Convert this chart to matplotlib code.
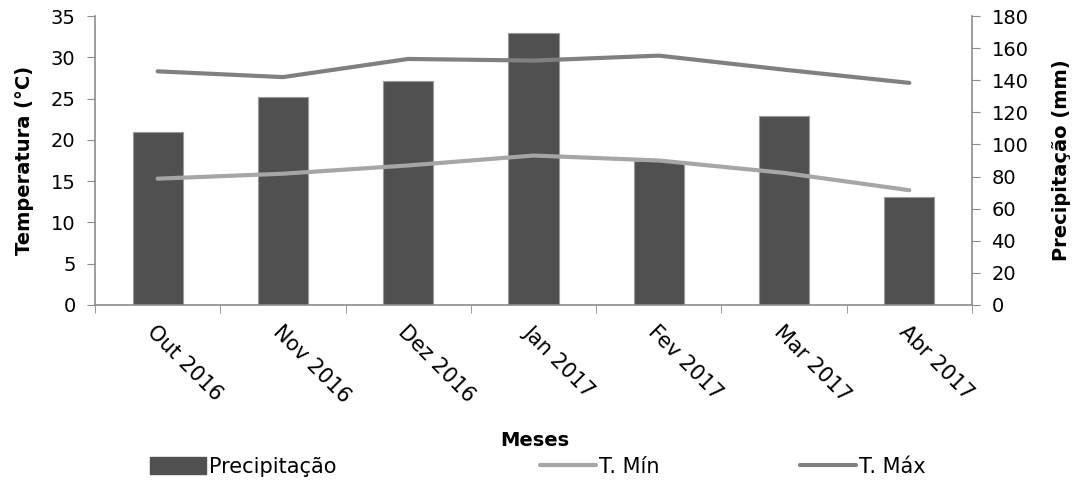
import matplotlib.pyplot as plt
import numpy as np
from matplotlib.lines import Line2D
from matplotlib.patches import Patch

meses = ['Out 2016', 'Nov 2016', 'Dez 2016', 'Jan 2017', 'Fev 2017', 'Mar 2017', 'Abr 2017']
precipitacao = [107.5, 129.5, 139.5, 169.5, 90, 118, 67]
t_min = [15.3, 15.9, 16.9, 18.1, 17.5, 16.0, 13.9]
t_max = [28.3, 27.6, 29.8, 29.6, 30.2, 28.5, 26.9]

plt.rcParams['font.family'] = ['DejaVu Sans']
fs = 14
gcol = '#8c8c8c'

fig = plt.figure(figsize=(10.81, 4.82), dpi=100)
ax = fig.add_axes([95/1081, 1 - 305/482, (972-95)/1081, (305-16)/482])
ax2 = ax.twinx()
ax.set_zorder(2)
ax.patch.set_visible(False)
ax2.set_zorder(1)

x = np.arange(len(meses))
ax2.bar(x, precipitacao, width=0.4, color='#505050', edgecolor='#9a9a9a', linewidth=0.8)
ax.plot(x, t_min, color='#a6a6a6', lw=3, solid_capstyle='round', solid_joinstyle='round')
ax.plot(x, t_max, color='#808080', lw=3, solid_capstyle='round', solid_joinstyle='round')

ax.set_xlim(-0.5, len(meses) - 0.5)
ax.set_ylim(0, 35)
ax.set_yticks(range(0, 36, 5))
ax2.set_ylim(0, 180)
ax2.set_yticks(range(0, 181, 20))

ax.set_xticks(x)
ax.set_xticklabels(meses, rotation=-45, ha='left', va='top', rotation_mode='anchor', fontsize=15)
ax.set_xticks(np.arange(-0.5, len(meses)), minor=True)
ax.tick_params(axis='x', which='major', length=0, pad=12)
ax.tick_params(axis='x', which='minor', length=6, color=gcol, direction='out')
ax.tick_params(axis='y', length=6, color=gcol, labelsize=fs, pad=8)
ax2.tick_params(axis='y', length=6, color=gcol, labelsize=fs, pad=8)

for a in (ax, ax2):
    a.spines['top'].set_visible(False)
    for s in ('left', 'right', 'bottom'):
        a.spines[s].set_color(gcol)
        a.spines[s].set_linewidth(1.2)
ax.spines['right'].set_visible(False)
ax2.spines['left'].set_visible(False)
ax2.spines['bottom'].set_visible(False)

ax.set_ylabel('Temperatura (°C)', fontsize=14, fontweight='bold', labelpad=12)
ax2.set_ylabel('Precipitação (mm)', fontsize=14, fontweight='bold', labelpad=17)
fig.text(535/1081, 1 - 441/482, 'Meses', fontsize=14, fontweight='bold', ha='center', va='center')

leg_items = [
    (Patch(facecolor='#505050', edgecolor='#505050'), 'Precipitação', 150),
    (Line2D([], [], color='#a6a6a6', lw=3, solid_capstyle='round'), 'T. Mín', 540),
    (Line2D([], [], color='#808080', lw=3, solid_capstyle='round'), 'T. Máx', 800),
]
for h, lab, px in leg_items:
    fig.legend([h], [lab], loc='center left', bbox_to_anchor=(px/1081, 1 - 467/482),
               frameon=False, fontsize=15, handlelength=2.7, handletextpad=0.15,
               borderpad=0, borderaxespad=0, handleheight=0.9)

fig.savefig('out.png', dpi=100)
